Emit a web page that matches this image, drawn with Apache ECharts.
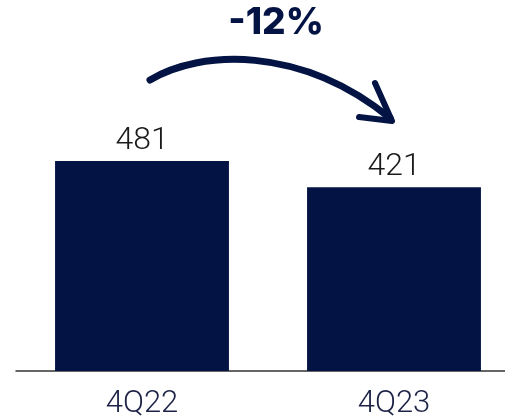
<!DOCTYPE html>
<html>
<head>
<meta charset="utf-8">
<script src="https://cdn.jsdelivr.net/npm/echarts@6/dist/echarts.min.js"></script>
<style>
  html, body { margin: 0; padding: 0; background: #fff; }
  #chart { width: 505px; height: 420px; }
</style>
</head>
<body>
<div id="chart"></div>
<script>
const categories = ['4Q22', '4Q23'];
const values = [481, 421];
const changeLabel = '-12%';

const navy = '#031343';
const chart = echarts.init(document.getElementById('chart'));

chart.setOption({
  animation: false,
  // grid runs past the right edge so the second bar sits where it does in the original
  grid: {left: 16, right: -15, top: 109, bottom: 49, outerBoundsMode: 'none', containLabel: false},
  xAxis: {
    type: 'category',
    data: categories,
    axisLine: {show: true, lineStyle: {color: '#333', width: 1.5}},
    axisTick: {show: false},
    axisLabel: {
      fontSize: 31,
      fontWeight: 300,
      color: '#1c2246',
      margin: 18,
      fontFamily: 'Roboto, sans-serif',
    },
  },
  yAxis: {
    type: 'value',
    min: 0,
    max: 600,
    show: false,
    splitLine: {show: false},
  },
  series: [{
    type: 'bar',
    data: values,
    barCategoryGap: '31%',
    itemStyle: {color: navy},
    label: {
      show: true,
      position: 'top',
      distance: 4,
      fontSize: 32,
      fontWeight: 300,
      color: '#1a1a1a',
      fontFamily: 'Roboto, sans-serif',
    },
  }],
});

// curved arrow annotation between the bars
chart.setOption({
  graphic: [
    {
      type: 'bezierCurve',
      shape: {x1: 150, y1: 80, cpx1: 200, cpy1: 50, cpx2: 300, cpy2: 45, x2: 390, y2: 118},
      style: {stroke: navy, lineWidth: 7, lineCap: 'round', fill: null},
    },
    {
      type: 'polyline',
      shape: {points: [[375, 83], [392, 121], [359, 117]]},
      style: {stroke: navy, lineWidth: 6, lineCap: 'round', lineJoin: 'round', fill: null},
    },
    {
      type: 'text',
      x: 276,
      y: 23,
      style: {
        text: changeLabel,
        font: '800 37px Inter, sans-serif',
        fill: navy,
        align: 'center',
        verticalAlign: 'middle',
      },
    },
  ],
});
</script>
</body>
</html>
